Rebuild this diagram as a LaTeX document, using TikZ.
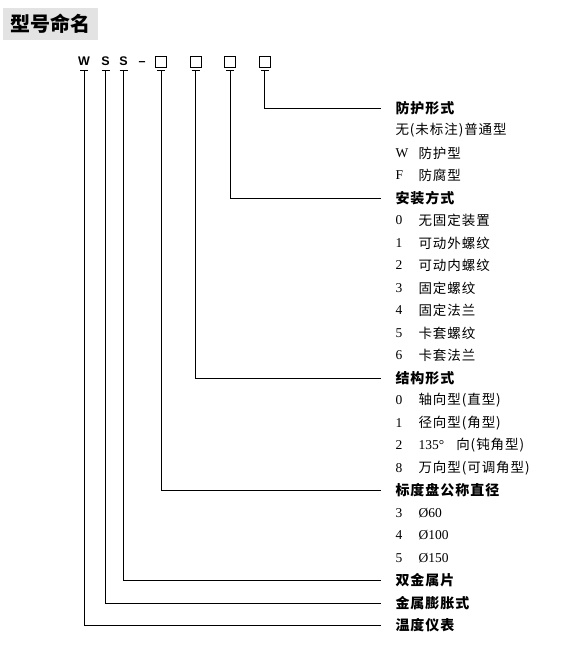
\documentclass[tikz,border=0pt]{standalone}
\usepackage{fontspec}
\setmainfont{Liberation Serif}
\setsansfont{Liberation Sans}
\newfontfamily\kcjk[LetterSpace=7]{Noto Sans CJK SC}
\newfontfamily\ktit{Noto Sans CJK SC}
\begin{document}
\begin{tikzpicture}[x=1pt,y=-1pt,line width=1pt,
khead/.style={anchor=west,inner sep=0pt,font=\kcjk\bfseries\fontsize{14}{16}\selectfont},
kitem/.style={anchor=west,inner sep=0pt,font=\kcjk\fontsize{13.5}{16}\selectfont},
knum/.style={anchor=west,inner sep=0pt,font=\rmfamily\fontsize{13.5}{16}\selectfont},
kcode/.style={anchor=base,inner sep=0pt,font=\sffamily\bfseries\fontsize{12.5}{14}\selectfont},
kbox/.style={draw,line width=0.8pt,minimum size=11pt,inner sep=0pt}]
\useasboundingbox (0,0) rectangle (560,648);
\pgfmathsetmacro{\kystep}{22.5}
\pgfmathsetmacro{\kytop}{108}
\pgfmathsetmacro{\kxtext}{395}
\pgfmathsetmacro{\kxsub}{418}
\pgfmathsetmacro{\kytick}{70}
\node[fill=gray!22,minimum width=95pt,minimum height=32pt,inner sep=0pt,font=\ktit\bfseries\fontsize{20}{22}\selectfont](ktitle)at(50.5,24){型号命名};
\foreach \kx/\ka/\kn in {84/W/kw,105.5/S/ks,123.5/S/kss,142/–/kdash}{\node[kcode](\kn)at(\kx,65.3){\ka};}
\foreach \kx/\kn in {161.3/kbone,195.6/kbtwo,230/kbthree,264.8/kbfour}{\node[kbox](\kn)at(\kx,62){};}
\foreach \kx/\kn in {84/kw,105.5/ks,123.5/kss,161.3/kbone,195.6/kbtwo,230/kbthree,264.8/kbfour}{\coordinate(\kn-t)at(\kx,\kytick);\draw([xshift=-4pt]\kn-t)--([xshift=4pt]\kn-t);}
\foreach \kr/\ka/\kn in {0/防护形式/kbfour,4/安装方式/kbthree,12/结构形式/kbtwo,17/标度盘公称直径/kbone,21/双金属片/kss,22/金属膨胀式/ks,23/温度仪表/kw}{\node[khead](kh\kr)at(\kxtext,\kytop+\kr*\kystep){\ka};\draw(\kn-t)|-([xshift=-14pt]kh\kr.west);}
\node[kitem](ki1)at(\kxtext,\kytop+\kystep){无(未标注)普通型};
\foreach \kr/\kn/\ka in {2/W/防护型,3/F/防腐型,5/0/无固定装置,6/1/可动外螺纹,7/2/可动内螺纹,8/3/固定螺纹,9/4/固定法兰,10/5/卡套螺纹,11/6/卡套法兰,13/0/轴向型(直型),14/1/径向型(角型),15/2/{{\rmfamily 135°}\hspace{0.9em}向(钝角型)},16/8/万向型(可调角型),18/3/{\rmfamily Ø60},19/4/{\rmfamily Ø100},20/5/{\rmfamily Ø150}}{\node[knum](kn\kr)at(\kxtext,\kytop+\kr*\kystep){\kn};\node[kitem](ki\kr)at(\kxsub,\kytop+\kr*\kystep){\ka};}
\end{tikzpicture}
\end{document}
